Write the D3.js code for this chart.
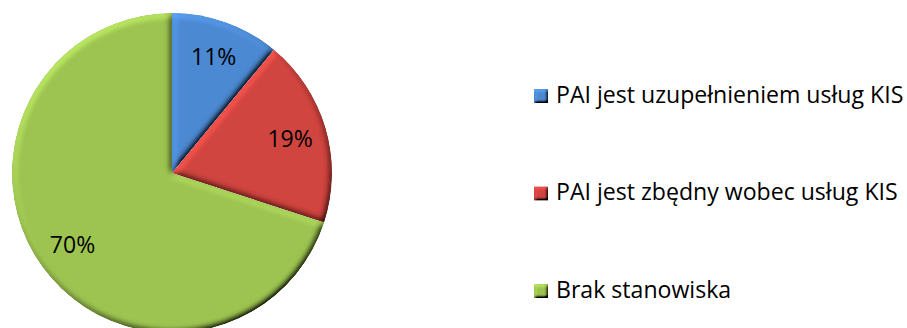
<!DOCTYPE html>
<html>
<head>
<meta charset="utf-8">
<script src="https://cdn.jsdelivr.net/npm/d3@7"></script>
<style>
  html, body { margin: 0; padding: 0; background: #fff; }
  svg { display: block; }
  text { font-family: "Open Sans", "Noto Sans", sans-serif; fill: #000; }
</style>
</head>
<body>
<svg id="chart" width="907" height="328"></svg>
<script>
// Opinion shares (percent)
const categories = [
  "PAI jest uzupełnieniem usług KIS",
  "PAI jest zbędny wobec usług KIS",
  "Brak stanowiska"
];
const shares = [11, 19, 70];
const sliceColors = ["#4c89d2", "#d0443f", "#9dc451"];

const svg = d3.select("#chart");
const defs = svg.append("defs");

// Beveled look: lit blurred alpha multiplied over the flat fill
function bevelFilter(id, blur, surface) {
  const f = defs.append("filter").attr("id", id)
    .attr("x", "-10%").attr("y", "-10%").attr("width", "120%").attr("height", "120%");
  f.append("feGaussianBlur").attr("in", "SourceAlpha").attr("stdDeviation", blur).attr("result", "blur");
  f.append("feDiffuseLighting").attr("in", "blur").attr("surfaceScale", surface)
    .attr("diffuseConstant", 1).attr("lighting-color", "#fff").attr("result", "light")
    .append("feDistantLight").attr("azimuth", 235).attr("elevation", 45);
  f.append("feComposite").attr("in", "SourceGraphic").attr("in2", "light")
    .attr("operator", "arithmetic").attr("k1", 1.414).attr("k2", 0).attr("k3", 0).attr("k4", 0)
    .attr("result", "lit");
  f.append("feComposite").attr("in", "lit").attr("in2", "SourceAlpha").attr("operator", "in");
}
bevelFilter("bevel", 3, 4);
bevelFilter("bevelSmall", 1.5, 3);

const cx = 172, cy = 173, radius = 160;

const pie = d3.pie().sort(null).value(d => d)(shares);
const arc = d3.arc().innerRadius(0).outerRadius(radius);
const labelArc = d3.arc().innerRadius(123).outerRadius(123);

const g = svg.append("g").attr("transform", `translate(${cx},${cy})`);

g.selectAll("path.slice")
  .data(pie)
  .join("path")
  .attr("class", "slice")
  .attr("d", arc)
  .attr("fill", (d, i) => sliceColors[i])
  .attr("filter", "url(#bevel)");

g.selectAll("text.pct")
  .data(pie)
  .join("text")
  .attr("class", "pct")
  .attr("transform", d => `translate(${labelArc.centroid(d)})`)
  .attr("text-anchor", "middle")
  .attr("dy", "0.34em")
  .style("font-size", "23px")
  .text(d => d.data + "%");

// Legend
const legendY = d3.scalePoint().domain(categories).range([95, 290]);
const legend = svg.append("g");
const rows = legend.selectAll("g.row")
  .data(categories)
  .join("g")
  .attr("class", "row")
  .attr("transform", d => `translate(534,${legendY(d)})`);

rows.append("rect")
  .attr("x", 0).attr("y", -6).attr("width", 14).attr("height", 14)
  .attr("fill", (d, i) => sliceColors[i])
  .attr("filter", "url(#bevelSmall)");

rows.append("text")
  .attr("x", 22)
  .attr("y", 7.5)
  .style("font-size", "23.1px")
  .text(d => d);
</script>
</body>
</html>
